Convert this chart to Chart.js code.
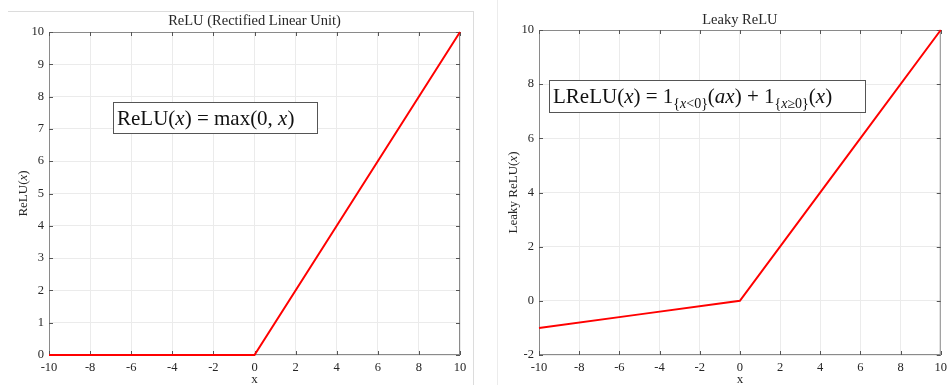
<!DOCTYPE html>
<html>
<head>
<meta charset="utf-8">
<script src="https://cdn.jsdelivr.net/npm/chart.js@4.4.1/dist/chart.umd.min.js"></script>
<style>
  body { margin: 0; background: #fff; }
  #wrap { position: relative; width: 952px; height: 385px; overflow: hidden; }
  .panel { position: absolute; top: 0; height: 385px; }
  #p1 { left: 0; width: 476px; }
  #p2 { left: 480px; width: 472px; }
  #frame1 { position: absolute; left: 8px; top: 11px; width: 465px; height: 380px; border-top: 1px solid #dcdcdc; border-right: 1px solid #dcdcdc; }
  #frame2 { position: absolute; left: 497px; top: 0; width: 1px; height: 385px; background: #ececec; }
</style>
</head>
<body>
<div id="wrap">
  <div id="frame1"></div>
  <div id="frame2"></div>
  <div class="panel" id="p1"><canvas id="chart-relu" width="476" height="385"></canvas></div>
  <div class="panel" id="p2"><canvas id="chart-leaky" width="472" height="385"></canvas></div>
</div>
<script>
// data
const xValues = [-10, -5, 0, 5, 10];
const reluValues = [0, 0, 0, 5, 10];
const leakyValues = [-1, -0.5, 0, 5, 10];
const xTicks = [-10, -8, -6, -4, -2, 0, 2, 4, 6, 8, 10];
const reluTicks = [0, 1, 2, 3, 4, 5, 6, 7, 8, 9, 10];
const leakyTicks = [-2, 0, 2, 4, 6, 8, 10];

const SERIF = '"Liberation Serif", "DejaVu Serif", serif';
const TXT = '#262626';

function pts(ys) {
    return xValues.map((x, i) => ({ x: x, y: ys[i] }));
}

// draws a list of text pieces: [text, size, italic, baselineShift]
function drawMath(ctx, parts, x, y) {
    let cx = x;
    parts.forEach(p => {
        ctx.font = (p[2] ? 'italic ' : '') + p[1] + 'px ' + SERIF;
        ctx.fillText(p[0], cx, y + (p[3] || 0));
        cx += ctx.measureText(p[0]).width;
    });
    return cx - x;
}
function mathWidth(ctx, parts) {
    let w = 0;
    parts.forEach(p => {
        ctx.font = (p[2] ? 'italic ' : '') + p[1] + 'px ' + SERIF;
        w += ctx.measureText(p[0]).width;
    });
    return w;
}

const matlabLook = {
    id: 'matlabLook',
    beforeDatasetsDraw(chart) {
        const ctx = chart.ctx;
        const a = chart.chartArea;
        const xs = chart.scales.x, ys = chart.scales.y;
        ctx.save();
        // box and inward ticks
        ctx.strokeStyle = '#8a8a8a';
        ctx.lineWidth = 1;
        ctx.strokeRect(a.left + 0.5, a.top + 0.5, a.right - a.left - 1, a.bottom - a.top - 1);
        ctx.strokeStyle = '#555';
        ctx.beginPath();
        xs.ticks.forEach(t => {
            const px = Math.round(xs.getPixelForValue(t.value)) + 0.5;
            ctx.moveTo(px, a.bottom); ctx.lineTo(px, a.bottom - 4);
            ctx.moveTo(px, a.top); ctx.lineTo(px, a.top + 4);
        });
        ys.ticks.forEach(t => {
            const py = Math.round(ys.getPixelForValue(t.value)) + 0.5;
            ctx.moveTo(a.left, py); ctx.lineTo(a.left + 4, py);
            ctx.moveTo(a.right, py); ctx.lineTo(a.right - 4, py);
        });
        ctx.stroke();
        ctx.restore();
    },
    afterDraw(chart, args, opts) {
        const ctx = chart.ctx;
        const a = chart.chartArea;
        ctx.save();
        ctx.fillStyle = TXT;
        ctx.textBaseline = 'alphabetic';
        // title
        ctx.font = '14.5px ' + SERIF;
        ctx.textAlign = 'center';
        ctx.fillText(opts.title, (a.left + a.right) / 2, opts.titleY);
        // x label
        ctx.font = '13px ' + SERIF;
        ctx.fillText('x', (a.left + a.right) / 2, 383);
        ctx.textAlign = 'left';
        // y label, rotated
        ctx.save();
        ctx.translate(opts.yLabelX, (a.top + a.bottom) / 2);
        ctx.rotate(-Math.PI / 2);
        const w = mathWidth(ctx, opts.yLabel);
        drawMath(ctx, opts.yLabel, -w / 2, 0);
        ctx.restore();
        // formula box
        const b = opts.box;
        ctx.fillStyle = '#fff';
        ctx.fillRect(b.x, b.y, b.w, b.h);
        ctx.strokeStyle = '#555';
        ctx.strokeRect(b.x + 0.5, b.y + 0.5, b.w, b.h);
        ctx.fillStyle = '#111';
        drawMath(ctx, opts.formula, b.x + 4, b.y + b.h / 2 + 7);
        ctx.restore();
    }
};

function axisX() {
    return {
        type: 'linear', min: -10, max: 10,
        afterBuildTicks: s => { s.ticks = xTicks.map(v => ({ value: v })); },
        afterFit: s => { s.height = 30; },
        grid: { color: '#ebebeb', drawTicks: false },
        border: { display: false },
        ticks: { padding: 5, color: TXT, font: { family: SERIF, size: 12.5 }, maxRotation: 0 }
    };
}
function axisY(min, max, ticks, width) {
    return {
        type: 'linear', min: min, max: max,
        afterBuildTicks: s => { s.ticks = ticks.map(v => ({ value: v })); },
        afterFit: s => { s.width = width; },
        grid: { color: '#ebebeb', drawTicks: false },
        border: { display: false },
        ticks: { padding: 5, color: TXT, font: { family: SERIF, size: 12.5 } }
    };
}

const chartRelu = new Chart(document.getElementById('chart-relu'), {
    type: 'scatter',
    data: {
        datasets: [{
            data: pts(reluValues),
            showLine: true,
            borderColor: '#ff0000',
            borderWidth: 2,
            pointRadius: 0,
            clip: 4
        }]
    },
    options: {
        responsive: false,
        animation: false,
        layout: { padding: { top: 32, right: 16, left: 0, bottom: 0 } },
        plugins: {
            legend: { display: false },
            tooltip: { enabled: false },
            matlabLook: {
                title: 'ReLU (Rectified Linear Unit)',
                titleY: 25,
                yLabelX: 27,
                yLabel: [['ReLU(', 13], ['x', 13, true], [')', 13]],
                box: { x: 113, y: 102, w: 204, h: 31 },
                formula: [['ReLU(', 21], ['x', 21, true], [') = max(0, ', 21], ['x', 21, true], [')', 21]]
            }
        },
        scales: { x: axisX(), y: axisY(0, 10, reluTicks, 49) }
    },
    plugins: [matlabLook]
});

const chartLeaky = new Chart(document.getElementById('chart-leaky'), {
    type: 'scatter',
    data: {
        datasets: [{
            data: pts(leakyValues),
            showLine: true,
            borderColor: '#ff0000',
            borderWidth: 2,
            pointRadius: 0,
            clip: 4
        }]
    },
    options: {
        responsive: false,
        animation: false,
        layout: { padding: { top: 30, right: 2, left: 0, bottom: 0 } },
        plugins: {
            legend: { display: false },
            tooltip: { enabled: false },
            matlabLook: {
                title: 'Leaky ReLU',
                titleY: 24,
                yLabelX: 37,
                yLabel: [['Leaky ReLU(', 13], ['x', 13, true], [')', 13]],
                box: { x: 69, y: 80, w: 316, h: 32 },
                formula: [['LReLU(', 21], ['x', 21, true], [') = 1', 21], ['{', 14, false, 5], ['x', 14, true, 5], ['<0}', 14, false, 5],
                          ['(', 21], ['ax', 21, true], [') + 1', 21], ['{', 14, false, 5], ['x', 14, true, 5], ['\u22650}', 14, false, 5],
                          ['(', 21], ['x', 21, true], [')', 21]]
            }
        },
        scales: { x: axisX(), y: axisY(-2, 10, leakyTicks, 59) }
    },
    plugins: [matlabLook]
});
</script>
</body>
</html>
